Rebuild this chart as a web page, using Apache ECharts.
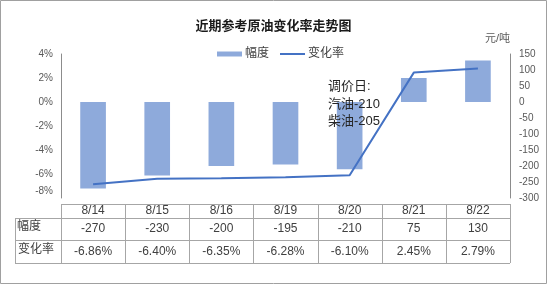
<!DOCTYPE html>
<html><head><meta charset="utf-8">
<script src="https://cdn.jsdelivr.net/npm/echarts@6/dist/echarts.min.js"></script>
<style>html,body{margin:0;padding:0;background:#fff}#c{width:547px;height:284px}</style>
</head><body><div id="c"></div>
<script>
var categories = ['8/14','8/15','8/16','8/19','8/20','8/21','8/22'];
var amplitude = [-270,-230,-200,-195,-210,75,130];
var rate = [-6.86,-6.40,-6.35,-6.28,-6.10,2.45,2.79];
var leftTicks = {min:-8,max:4,interval:2};
var rightTicks = {min:-300,max:150,interval:50};
var noteLines = ['调价日:','汽油-210','柴油-205'];

var FONT = "'Liberation Sans','Noto Sans CJK SC',sans-serif";
var chart = echarts.init(document.getElementById('c'));
var gl = 61, gr = 510, gt = 54, gb = 198;
var colW = (gr - gl) / categories.length;
var tTop = 204, r1 = 218, r2 = 240, r3 = 263, tLeft = 15;
var lineC = '#a6a6a6';
var graphics = [];
graphics.push({type:'rect',shape:{x:0.5,y:0.5,width:546,height:283},style:{fill:null,stroke:'#a0a0a0',lineWidth:1},silent:true});
graphics.push({type:'line',shape:{x1:gl,y1:tTop+0.5,x2:gr,y2:tTop+0.5},style:{stroke:lineC}});
[r1,r2,r3].forEach(function(y){graphics.push({type:'line',shape:{x1:tLeft,y1:y+0.5,x2:gr,y2:y+0.5},style:{stroke:lineC}});});
for (var i=0;i<=categories.length;i++){
  var x = Math.round(gl + i*colW)+0.5;
  graphics.push({type:'line',shape:{x1:x,y1:tTop,x2:x,y2:r3},style:{stroke:lineC}});
}
graphics.push({type:'line',shape:{x1:tLeft+0.5,y1:r1,x2:tLeft+0.5,y2:r3},style:{stroke:lineC}});
graphics.push({type:'text',left:17,top:(r1+r2)/2-8,style:{text:'幅度',font:'12px '+FONT,fill:'#404040'}});
graphics.push({type:'text',left:18,top:(r2+r3)/2-8,style:{text:'变化率',font:'12px '+FONT,fill:'#404040'}});
graphics.push({type:'text',left:328,top:78,z:100,style:{text:noteLines.join('\n'),font:'13px '+FONT,lineHeight:17.5,fill:'#262626'}});

function tableAxis(labels, margin){
  return {type:'category',data:labels,position:'bottom',gridIndex:0,
    axisLine:{show:false},axisTick:{show:false},
    axisLabel:{margin:margin,verticalAlign:'middle',fontSize:12,color:'#404040',fontFamily:FONT,interval:0}};
}
var option = {
  animation:false,
  title:{text:'近期参考原油变化率走势图',left:'center',top:15,textStyle:{fontSize:13,fontWeight:'bold',color:'#1a1a1a',fontFamily:FONT}},
  legend:{top:43,left:212,itemGap:11,itemWidth:25,itemHeight:5,textStyle:{fontSize:12,color:'#404040',fontFamily:FONT,padding:[0,0,0,-2]},
    data:[{name:'幅度',icon:'rect'},{name:'变化率',icon:'path://M0,0 L25,0 L25,2 L0,2 Z'}]},
  grid:{left:gl,right:547-gr,top:gt,bottom:284-gb,containLabel:false},
  xAxis:[
    {type:'category',data:categories,axisLine:{show:false},axisTick:{show:false},
     axisLabel:{margin:(tTop+r1)/2-gb,verticalAlign:'middle',fontSize:12,color:'#404040',fontFamily:FONT,interval:0}},
    tableAxis(amplitude.map(function(v){return String(v);}), (r1+r2)/2-gb),
    tableAxis(rate.map(function(v){return v.toFixed(2)+'%';}), (r2+r3)/2-gb)
  ],
  yAxis:[
    {type:'value',min:leftTicks.min,max:leftTicks.max,interval:leftTicks.interval,position:'left',
     splitLine:{show:false},axisTick:{show:false},axisLine:{show:true,lineStyle:{color:'#8c8c8c'}},
     axisLabel:{margin:8,fontSize:10,color:'#595959',fontFamily:FONT,
       formatter:function(v){return v===leftTicks.min?'{m|'+v+'%}':v+'%';},
       rich:{m:{padding:[0,0,14,0],fontSize:10,color:'#595959',fontFamily:FONT}}}},
    {type:'value',min:rightTicks.min,max:rightTicks.max,interval:rightTicks.interval,position:'right',
     name:'元/吨',nameGap:10,nameTextStyle:{align:'right',fontSize:11,color:'#595959',fontFamily:FONT},
     splitLine:{show:false},axisTick:{show:false},axisLine:{show:true,lineStyle:{color:'#8c8c8c'}},
     axisLabel:{margin:9,fontSize:10,color:'#595959',fontFamily:FONT}}
  ],
  series:[
    {name:'幅度',type:'bar',data:amplitude,yAxisIndex:1,xAxisIndex:0,barWidth:'40%',itemStyle:{color:'#8eaadb'}},
    {name:'变化率',type:'line',data:rate,yAxisIndex:0,xAxisIndex:0,symbol:'none',lineStyle:{color:'#4472c4',width:2},itemStyle:{color:'#4472c4'}}
  ],
  graphic:graphics
};
chart.setOption(option);
</script></body></html>
